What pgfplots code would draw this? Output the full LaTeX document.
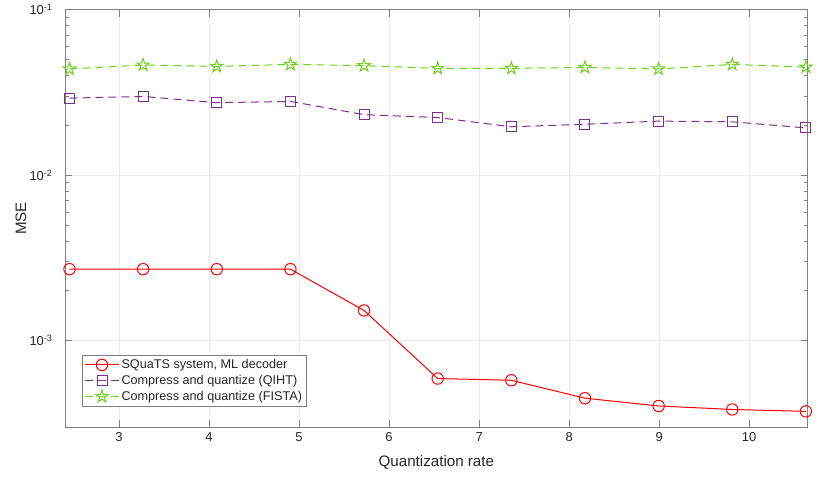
\documentclass[border=0pt]{standalone}
\usepackage{fontspec}
\setmainfont{Liberation Sans}
\usepackage{pgfplots}
\pgfplotsset{compat=1.18}
\usetikzlibrary{calc}
\definecolor{myred}{rgb}{1,0,0}
\definecolor{mypurple}{rgb}{0.494,0.184,0.556}
\definecolor{mygreen}{rgb}{0.42,0.82,0.1}
\definecolor{axgray}{rgb}{0.5,0.5,0.5}
\definecolor{txtgray}{rgb}{0.15,0.15,0.15}
\pgfdeclareplotmark{pentagram}{%
  \pgfpathmoveto{\pgfpointpolar{90}{\pgfplotmarksize}}%
  \pgfpathlineto{\pgfpointpolar{126}{0.382\pgfplotmarksize}}%
  \pgfpathlineto{\pgfpointpolar{162}{\pgfplotmarksize}}%
  \pgfpathlineto{\pgfpointpolar{198}{0.382\pgfplotmarksize}}%
  \pgfpathlineto{\pgfpointpolar{234}{\pgfplotmarksize}}%
  \pgfpathlineto{\pgfpointpolar{270}{0.382\pgfplotmarksize}}%
  \pgfpathlineto{\pgfpointpolar{306}{\pgfplotmarksize}}%
  \pgfpathlineto{\pgfpointpolar{342}{0.382\pgfplotmarksize}}%
  \pgfpathlineto{\pgfpointpolar{18}{\pgfplotmarksize}}%
  \pgfpathlineto{\pgfpointpolar{54}{0.382\pgfplotmarksize}}%
  \pgfpathclose
  \pgfusepathqstroke
}
\begin{document}
\begin{tikzpicture}
\begin{semilogyaxis}[
  name=ax,
  scale only axis,
  width=742.7bp, height=417.3bp,
  xmin=2.40, xmax=10.65,
  ymin=3e-4, ymax=0.1,
  xtick={3,4,5,6,7,8,9,10},
  ytick={1e-3,1e-2,1e-1},
  yticklabels={10\textsuperscript{-3},10\textsuperscript{-2},10\textsuperscript{-1}},
  /pgf/number format/assume math mode=true,
  tick label style={font=\fontsize{13}{15}\selectfont, text=txtgray},
  yticklabel style={xshift=-9bp},
  xticklabel style={yshift=-2bp},
  xlabel={Quantization rate},
  ylabel={MSE},
  label style={font=\fontsize{15.2}{17}\selectfont, text=txtgray},
  xlabel style={at={(axis description cs:0.5,0)}, anchor=center, yshift=-35.7bp},
  ylabel style={at={(axis description cs:0,0.5)}, anchor=center, yshift=44bp},
  axis line style={axgray, line width=0.8pt},
  tick style={axgray, line width=0.6pt},
  tick align=inside,
  major tick length=7bp,
  minor tick length=4bp,
  xtick pos=both, ytick pos=both,
  grid=major,
  major grid style={gray!16, line width=0.6pt},
  legend style={at={(rel axis cs:0.0225,0.0486)}, anchor=south west,
    draw=axgray, fill=white, line width=0.6pt,
    font=\fontsize{12.7}{14}\selectfont, text=txtgray,
    row sep=1.2bp, inner sep=2.5bp},
  legend cell align=left,
  legend image code/.code={%
    \draw[#1] (0cm,0cm) -- (17bp,0cm) -- (34bp,0cm);
    \path[#1, solid] plot coordinates {(17bp,0cm)};
  },
]
\addplot[myred, line width=1bp, mark=o, mark size=5.7bp, mark options={solid}] coordinates {
(2.45,0.00270) (3.268,0.00270) (4.086,0.00270) (4.904,0.00270) (5.722,0.00152)
(6.54,0.000589) (7.358,0.000575) (8.176,0.000448) (8.994,0.000402) (9.812,0.000383) (10.63,0.000373)};
\addlegendentry{SQuaTS system, ML decoder}
\addplot[mypurple, line width=1bp, dash pattern=on 8bp off 5bp, mark=square, mark size=5bp, mark options={solid}] coordinates {
(2.45,0.0292) (3.268,0.0299) (4.086,0.0274) (4.904,0.0279) (5.722,0.0232)
(6.54,0.0223) (7.358,0.0196) (8.176,0.0203) (8.994,0.0212) (9.812,0.0210) (10.63,0.0193)};
\addlegendentry{Compress and quantize (QIHT)}
\addplot[mygreen, line width=1bp, dash pattern=on 8bp off 5bp, mark=pentagram, mark size=6.5bp, mark options={solid}] coordinates {
(2.45,0.0438) (3.268,0.0463) (4.086,0.0454) (4.904,0.0467) (5.722,0.0459)
(6.54,0.0442) (7.358,0.0442) (8.176,0.0448) (8.994,0.0438) (9.812,0.0467) (10.63,0.0450)};
\addlegendentry{Compress and quantize (FISTA)}
\end{semilogyaxis}
\pgfresetboundingbox
\path[use as bounding box] ($(ax.south west)+(-65bp,-52bp)$) rectangle ($(ax.north east)+(22.3bp,9.7bp)$);
\end{tikzpicture}
\end{document}
